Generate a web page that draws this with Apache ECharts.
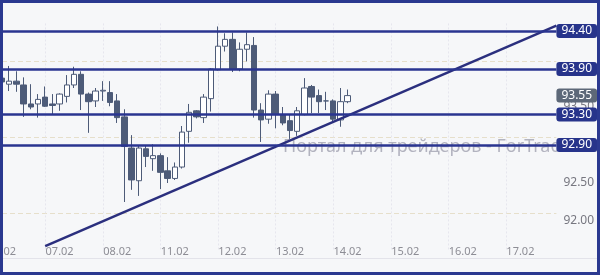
<!DOCTYPE html>
<html>
<head>
<meta charset="utf-8">
<script src="https://cdn.jsdelivr.net/npm/echarts@6/dist/echarts.min.js"></script>
<style>
html,body{margin:0;padding:0;background:#f6f7f9;}
#wrap{position:relative;width:600px;height:275px;}
#chart{position:absolute;left:0;top:0;width:600px;height:275px;}
#frame{position:absolute;left:0;top:0;width:600px;height:275px;box-sizing:border-box;border:3px solid #2b3990;pointer-events:none;}
</style>
</head>
<body>
<div id="wrap"><div id="chart"></div><div id="frame"></div></div>
<script>
// Days shown on the x axis (8 three-hour candles per day)
const days = ['06.02','07.02','08.02','11.02','12.02','13.02','14.02','15.02','16.02','17.02'];
const hours = ['00','03','06','09','12','15','18','21'];
const slotCount = 78;

// Candle values
const opens  = [93.78,93.70,93.74,93.69,93.44,93.44,93.53,93.44,93.44,93.54,93.69,93.83,93.57,93.48,93.61,93.59,93.48,93.27,92.86,92.43,92.85,92.72,92.76,92.56,92.46,92.61,93.08,93.35,93.26,93.51,93.89,94.20,94.29,93.90,94.16,94.21,93.36,93.24,93.57,93.30,93.22,93.08,93.30,93.67,93.55,93.48,93.48,93.23,93.47];
const closes = [93.73,93.74,93.70,93.44,93.40,93.50,93.41,93.42,93.57,93.69,93.83,93.57,93.47,93.61,93.62,93.46,93.26,92.88,92.44,92.86,92.75,92.76,92.54,92.46,92.61,93.07,93.33,93.27,93.53,93.90,94.20,94.29,93.90,94.16,94.22,93.36,93.23,93.57,93.30,93.19,93.09,93.35,93.65,93.53,93.47,93.48,93.24,93.47,93.55];
const lows   = [93.70,93.61,93.60,93.27,93.37,93.26,93.40,93.30,93.35,93.46,93.65,93.36,93.06,93.40,93.48,93.41,93.19,92.15,92.31,92.23,92.61,92.56,92.32,92.40,92.44,92.59,92.93,93.25,93.19,93.34,93.88,94.13,93.86,93.87,94.00,93.26,92.94,93.18,93.12,93.16,92.98,93.02,93.29,93.32,93.32,93.36,93.20,93.14,93.45];
const highs  = [93.81,93.94,93.87,93.79,93.70,93.57,93.67,93.57,93.58,93.82,93.93,93.87,93.59,93.65,93.74,93.74,93.57,93.37,93.03,92.90,92.90,92.91,92.79,92.74,92.67,93.15,93.44,93.36,93.57,93.91,94.46,94.37,94.38,94.25,94.38,94.32,93.45,93.62,93.61,93.40,93.30,93.40,93.78,93.69,93.63,93.60,93.50,93.65,93.63];

// Horizontal levels, current price, trend line end points [slot index, price]
const levels = [94.40, 93.90, 93.30, 92.90];
const lastPrice = 93.55;
const trendStart = [6, 91.57];
const trendEnd = [77, 94.47];

// Y axis tick labels range
const yMin = 91.5, yMax = 94.5, yStep = 0.5;

const categories = [];
days.forEach(d => hours.forEach(h => categories.push(d + ' ' + h)));
categories.length = slotCount;

const candleData = opens.map((o, i) => [o, closes[i], lows[i], highs[i]]);

const navy = '#2a3590';
const boxLabel = (bg) => ({
  show: true, position: 'end', distance: 0,
  formatter: p => Number(p.value).toFixed(2),
  color: '#ffffff', backgroundColor: bg, borderRadius: 3,
  padding: [1, 5, 1, 5], fontSize: 12, lineHeight: 12,
  fontFamily: 'Noto Sans'
});

const markData = levels.map(v => ({ yAxis: v, label: boxLabel('#27348b'), lineStyle: { color: navy, width: 2.5, type: 'solid' } }));
markData.push({ yAxis: lastPrice, label: boxLabel('#5d6878'), lineStyle: { color: 'rgba(0,0,0,0)', width: 0 } });

const chart = echarts.init(document.getElementById('chart'), null, { renderer: 'canvas' });
chart.setOption({
  animation: false,
  backgroundColor: '#f6f7f9',
  textStyle: { fontFamily: 'Noto Sans' },
  grid: { left: 2, right: 43.6, top: 23.4, bottom: 23.6, containLabel: false, outerBoundsMode: 'none' },
  xAxis: {
    type: 'category', data: categories, boundaryGap: false, offset: -5,
    axisLine: { show: false }, axisTick: { show: false },
    axisLabel: { interval: 7, margin: 0, color: '#8d8d95', fontSize: 11, formatter: v => v.split(' ')[0] },
    splitLine: { show: true, interval: (idx) => idx % 8 === 6, lineStyle: { color: '#e6e6ee', type: [2, 2], width: 1 } }
  },
  yAxis: {
    type: 'value', position: 'right', min: yMin, max: yMax, interval: yStep, scale: true,
    axisLine: { show: false }, axisTick: { show: false },
    axisLabel: { margin: 7, color: '#777780', fontSize: 12, verticalAlign: 'top', padding: [1, 0, 0, 0],
      showMinLabel: false, showMaxLabel: false, formatter: v => v.toFixed(2) },
    splitLine: { show: true, lineStyle: { color: ['rgba(0,0,0,0)', '#e6dfcb'], type: [5, 3], width: 1 } }
  },
  graphic: [
    { type: 'text', left: 283, top: 138, z: 1, silent: true,
      style: { text: 'Портал для трейдеров - ForTrader.ru', font: '18px "Noto Sans"', fill: 'rgba(150,150,166,0.7)' } },
    { type: 'line', z: 1, silent: true, shape: { x1: 0, y1: 258.5, x2: 600, y2: 258.5 }, style: { stroke: '#e3e3ea', lineWidth: 1 } }
  ],
  series: [
    {
      type: 'candlestick', data: candleData, barWidth: 6,
      itemStyle: { color: '#ffffff', color0: '#4d5b78', borderColor: '#4d5b78', borderColor0: '#4d5b78', borderWidth: 1 },
      markLine: { silent: true, symbol: ['none', 'none'], animation: false, data: markData }
    },
    {
      type: 'line', data: [trendStart, trendEnd], symbol: 'none', silent: true, z: 3,
      lineStyle: { color: '#2b2f7e', width: 2.5 }
    }
  ]
});
</script>
</body>
</html>
